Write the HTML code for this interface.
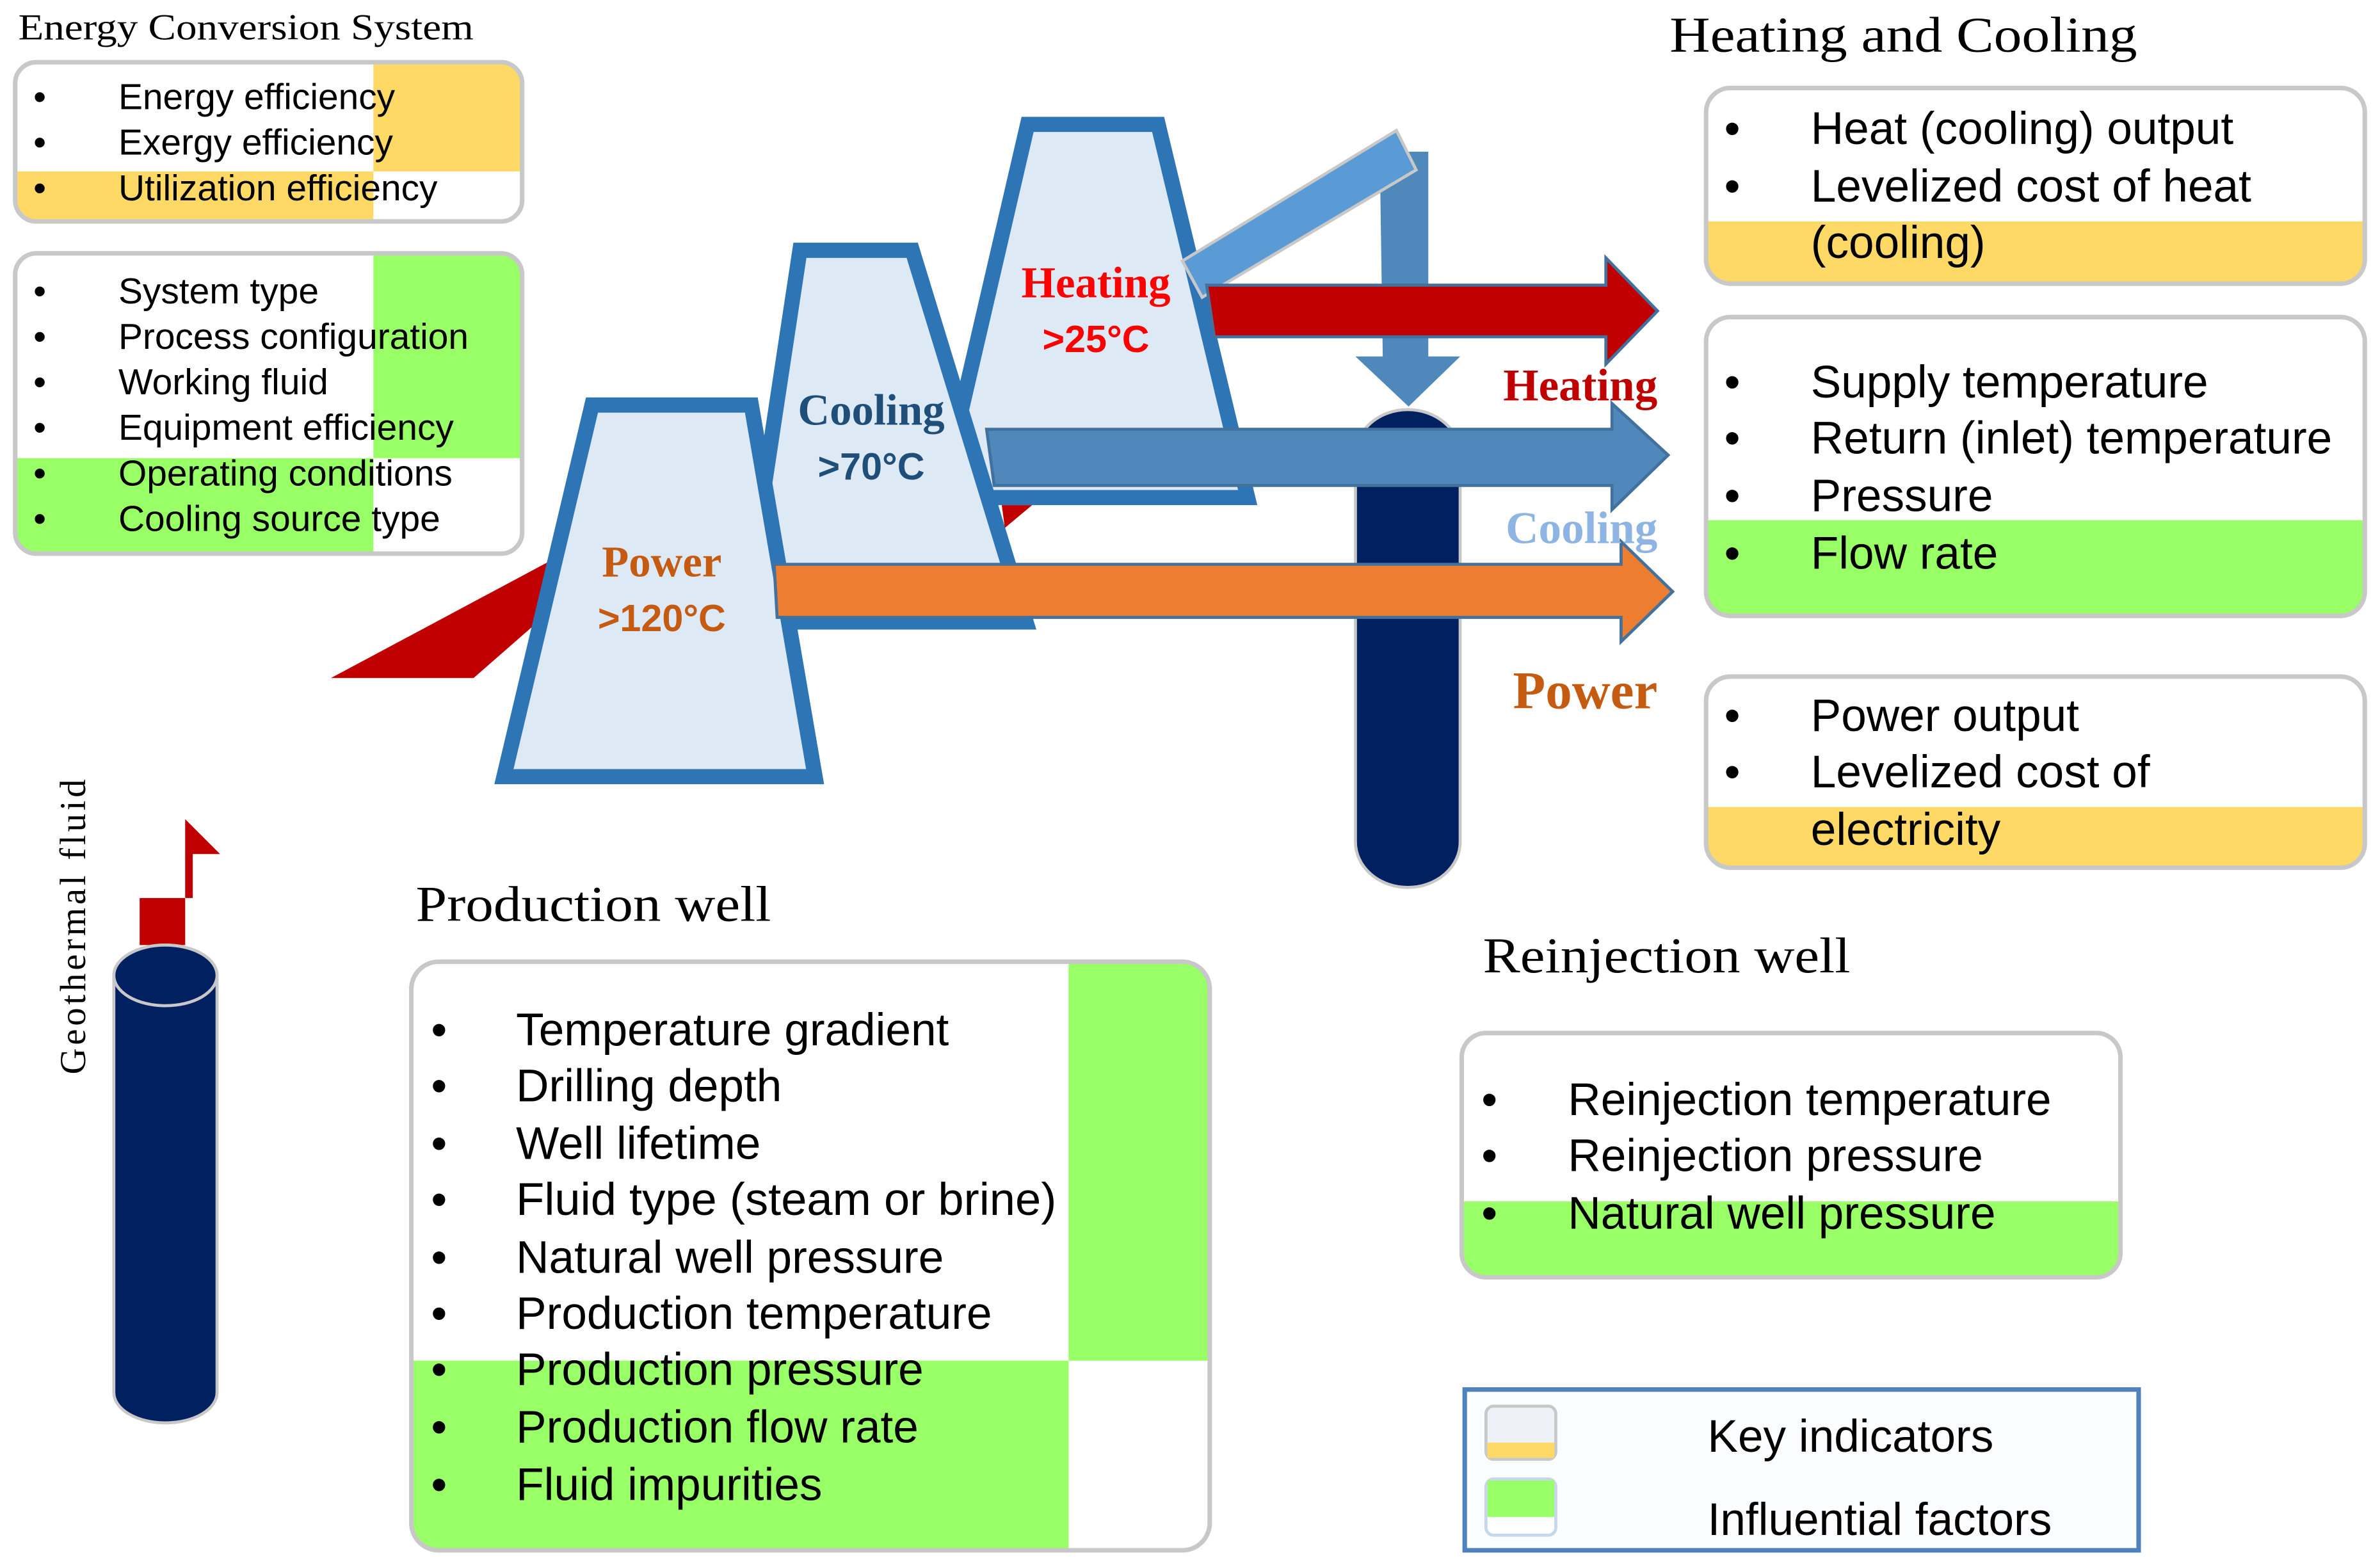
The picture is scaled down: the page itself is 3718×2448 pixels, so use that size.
<!DOCTYPE html>
<html><head><meta charset="utf-8"><style>
html,body{margin:0;padding:0;background:#fff;}
svg{display:block;}
.s{font-family:"Liberation Sans",sans-serif;fill:#000;}
.r{font-family:"Liberation Serif",serif;}
</style></head><body>
<svg width="3718" height="2448" viewBox="0 0 1568 1033" preserveAspectRatio="none" xmlns="http://www.w3.org/2000/svg">
<defs>
<clipPath id="c1"><rect x="10" y="41" width="334" height="105" rx="14"/></clipPath>
<clipPath id="c2"><rect x="10" y="167" width="334" height="198" rx="14"/></clipPath>
<clipPath id="c3"><rect x="1124" y="58" width="434" height="129" rx="16"/></clipPath>
<clipPath id="c4"><rect x="1124" y="209" width="434" height="197" rx="16"/></clipPath>
<clipPath id="c5"><rect x="1124" y="446" width="434" height="126" rx="16"/></clipPath>
<clipPath id="c6"><rect x="271" y="634" width="526" height="388" rx="18"/></clipPath>
<clipPath id="c7"><rect x="963" y="681" width="434" height="161" rx="16"/></clipPath>
</defs>

<!-- Energy conversion system -->
<text x="12" y="26" class="r" font-size="24" textLength="300" lengthAdjust="spacingAndGlyphs">Energy Conversion System</text>
<g clip-path="url(#c1)">
<rect x="10" y="41" width="334" height="105" fill="#fff"/>
<rect x="246" y="41" width="98" height="72" fill="#ffd966"/>
<rect x="10" y="113" width="236" height="33" fill="#ffd966"/>
</g>
<rect x="10" y="41" width="334" height="105" rx="14" fill="none" stroke="#c8c8c8" stroke-width="3"/>
<g class="s" font-size="24">
<text x="22" y="72">•</text><text x="78" y="72">Energy efficiency</text>
<text x="22" y="102">•</text><text x="78" y="102">Exergy efficiency</text>
<text x="22" y="132">•</text><text x="78" y="132">Utilization efficiency</text>
</g>
<g clip-path="url(#c2)">
<rect x="10" y="167" width="334" height="198" fill="#fff"/>
<rect x="246" y="167" width="98" height="135" fill="#99ff66"/>
<rect x="10" y="302" width="236" height="63" fill="#99ff66"/>
</g>
<rect x="10" y="167" width="334" height="198" rx="14" fill="none" stroke="#c8c8c8" stroke-width="3"/>
<g class="s" font-size="24">
<text x="22" y="200">•</text><text x="78" y="200">System type</text>
<text x="22" y="230">•</text><text x="78" y="230">Process configuration</text>
<text x="22" y="260">•</text><text x="78" y="260">Working fluid</text>
<text x="22" y="290">•</text><text x="78" y="290">Equipment  efficiency</text>
<text x="22" y="320">•</text><text x="78" y="320">Operating conditions</text>
<text x="22" y="350">•</text><text x="78" y="350">Cooling source type</text>
</g>

<!-- Heating and cooling -->
<text x="1100" y="34" class="r" font-size="33" textLength="308" lengthAdjust="spacingAndGlyphs">Heating and Cooling</text>
<g clip-path="url(#c3)"><rect x="1124" y="58" width="434" height="129" fill="#fff"/><rect x="1124" y="146" width="434" height="41" fill="#ffd966"/></g>
<rect x="1124" y="58" width="434" height="129" rx="16" fill="none" stroke="#c8c8c8" stroke-width="3"/>
<g class="s" font-size="30">
<text x="1136" y="95">•</text><text x="1193" y="95">Heat (cooling) output</text>
<text x="1136" y="133">•</text><text x="1193" y="133">Levelized cost of heat</text>
<text x="1193" y="170">(cooling)</text>
</g>
<g clip-path="url(#c4)"><rect x="1124" y="209" width="434" height="197" fill="#fff"/><rect x="1124" y="343" width="434" height="63" fill="#99ff66"/></g>
<rect x="1124" y="209" width="434" height="197" rx="16" fill="none" stroke="#c8c8c8" stroke-width="3"/>
<g class="s" font-size="30">
<text x="1136" y="262">•</text><text x="1193" y="262">Supply temperature</text>
<text x="1136" y="299">•</text><text x="1193" y="299">Return (inlet) temperature</text>
<text x="1136" y="337">•</text><text x="1193" y="337">Pressure</text>
<text x="1136" y="375">•</text><text x="1193" y="375">Flow rate</text>
</g>
<g clip-path="url(#c5)"><rect x="1124" y="446" width="434" height="126" fill="#fff"/><rect x="1124" y="532" width="434" height="40" fill="#ffd966"/></g>
<rect x="1124" y="446" width="434" height="126" rx="16" fill="none" stroke="#c8c8c8" stroke-width="3"/>
<g class="s" font-size="30">
<text x="1136" y="482">•</text><text x="1193" y="482">Power output</text>
<text x="1136" y="519">•</text><text x="1193" y="519">Levelized cost of</text>
<text x="1193" y="557">electricity</text>
</g>

<!-- Diagram -->
<polygon points="218,447 312,447 400,370 362,370" fill="#c00000"/>
<polygon points="677,82 763,82 822,328 620,328" fill="#dde9f5" stroke="#2e75b6" stroke-width="10"/>
<polygon points="909,100 941,100 941,235 962,235 928,268 893,235 911,235" fill="#4f88bb"/>
<polygon points="779,172 920,86 933,112 792,196" fill="#5b9bd5" stroke="#c8c8c8" stroke-width="2"/>
<polygon points="795,188 1058,188 1058,170 1092,205 1058,240 1058,222 800,222" fill="#c00000" stroke="#41719c" stroke-width="2"/>
<path d="M893,300 A34.5,30 0 0 1 962,300 L962,555 A34.5,30 0 0 1 893,555 Z" fill="#002060" stroke="#c8c8c8" stroke-width="2"/>
<polygon points="527,165 601,165 676,410 490,410" fill="#dde9f5" stroke="#2e75b6" stroke-width="10"/>
<polygon points="660,333 680,333 662,348" fill="#c00000"/>
<polygon points="650,283 1062,283 1062,266 1099,300 1062,336 1062,320 655,320" fill="#4f88bb" stroke="#41719c" stroke-width="2"/>
<polygon points="390,267 495,267 537,512 332,512" fill="#dde9f5" stroke="#2e75b6" stroke-width="10"/>
<polygon points="510,372 1068,372 1068,357 1102,390 1068,423 1068,407 512,407" fill="#ed7d31" stroke="#41719c" stroke-width="2"/>

<g class="r" font-weight="bold" text-anchor="middle">
<text x="722" y="196" font-size="29" fill="#ff0000">Heating</text>
<text x="574" y="280" font-size="29" fill="#1f4e79">Cooling</text>
<text x="436" y="380" font-size="29" fill="#c55a11">Power</text>
</g>
<g class="s" font-weight="bold" text-anchor="middle" font-size="25">
<text x="722" y="232" fill="#ff0000">&gt;25°C</text>
<text x="574" y="316" fill="#1f4e79">&gt;70°C</text>
<text x="436" y="416" fill="#c55a11">&gt;120°C</text>
</g>
<g class="r" font-weight="bold" text-anchor="end">
<text x="1092" y="264" font-size="30" fill="#c00000">Heating</text>
<text x="1092" y="358" font-size="30" fill="#8eb4e3">Cooling</text>
<text x="1092" y="467" font-size="35" fill="#c55a11">Power</text>
</g>

<!-- production well cylinder -->
<path d="M122,540 L145,563 L127,563 L127,592 L122,592 Z" fill="#c00000"/>
<rect x="92" y="592" width="30" height="31" fill="#c00000"/>
<path d="M75,643 A34,20 0 0 1 143,643 L143,918 A34,20 0 0 1 75,918 Z" fill="#002060" stroke="#c8c8c8" stroke-width="2"/>
<ellipse cx="109" cy="643" rx="34" ry="20" fill="#002060" stroke="#c8c8c8" stroke-width="2"/>
<text transform="translate(56,610) rotate(-90)" class="r" font-size="24" text-anchor="middle" letter-spacing="2">Geothermal  fluid</text>

<!-- production well -->
<text x="274" y="607" class="r" font-size="33" textLength="234" lengthAdjust="spacingAndGlyphs">Production well</text>
<g clip-path="url(#c6)"><rect x="271" y="634" width="526" height="388" fill="#fff"/>
<rect x="704" y="634" width="93" height="263" fill="#99ff66"/>
<rect x="271" y="897" width="433" height="125" fill="#99ff66"/></g>
<rect x="271" y="634" width="526" height="388" rx="18" fill="none" stroke="#c8c8c8" stroke-width="3"/>
<g class="s" font-size="30">
<text x="284" y="689">•</text><text x="340" y="689">Temperature gradient</text>
<text x="284" y="726">•</text><text x="340" y="726">Drilling depth</text>
<text x="284" y="764">•</text><text x="340" y="764">Well lifetime</text>
<text x="284" y="801">•</text><text x="340" y="801" textLength="356" lengthAdjust="spacingAndGlyphs">Fluid type (steam or brine)</text>
<text x="284" y="839">•</text><text x="340" y="839">Natural well pressure</text>
<text x="284" y="876">•</text><text x="340" y="876">Production temperature</text>
<text x="284" y="913">•</text><text x="340" y="913">Production pressure</text>
<text x="284" y="951">•</text><text x="340" y="951">Production flow rate</text>
<text x="284" y="989">•</text><text x="340" y="989">Fluid impurities</text>
</g>

<!-- reinjection well -->
<text x="977" y="641" class="r" font-size="33" textLength="242" lengthAdjust="spacingAndGlyphs">Reinjection well</text>
<g clip-path="url(#c7)"><rect x="963" y="681" width="434" height="161" fill="#fff"/><rect x="963" y="792" width="434" height="50" fill="#99ff66"/></g>
<rect x="963" y="681" width="434" height="161" rx="16" fill="none" stroke="#c8c8c8" stroke-width="3"/>
<g class="s" font-size="30">
<text x="976" y="735">•</text><text x="1033" y="735">Reinjection temperature</text>
<text x="976" y="772">•</text><text x="1033" y="772">Reinjection pressure</text>
<text x="976" y="810">•</text><text x="1033" y="810">Natural well pressure</text>
</g>

<!-- legend -->
<rect x="965" y="916" width="444" height="106" fill="#fbfcfe" stroke="#4f81bd" stroke-width="3"/>
<rect x="979" y="927" width="46" height="35" rx="5" fill="#eef2f8" stroke="#c8c8c8" stroke-width="2"/>
<rect x="980" y="951" width="44" height="10" fill="#ffd966"/>
<rect x="979" y="975" width="46" height="37" rx="5" fill="#fff" stroke="#c6d6ec" stroke-width="2"/>
<rect x="980" y="976" width="44" height="24" fill="#99ff66"/>
<g class="s" font-size="30">
<text x="1125" y="957">Key indicators</text>
<text x="1125" y="1012">Influential factors</text>
</g>
</svg>
</body></html>
